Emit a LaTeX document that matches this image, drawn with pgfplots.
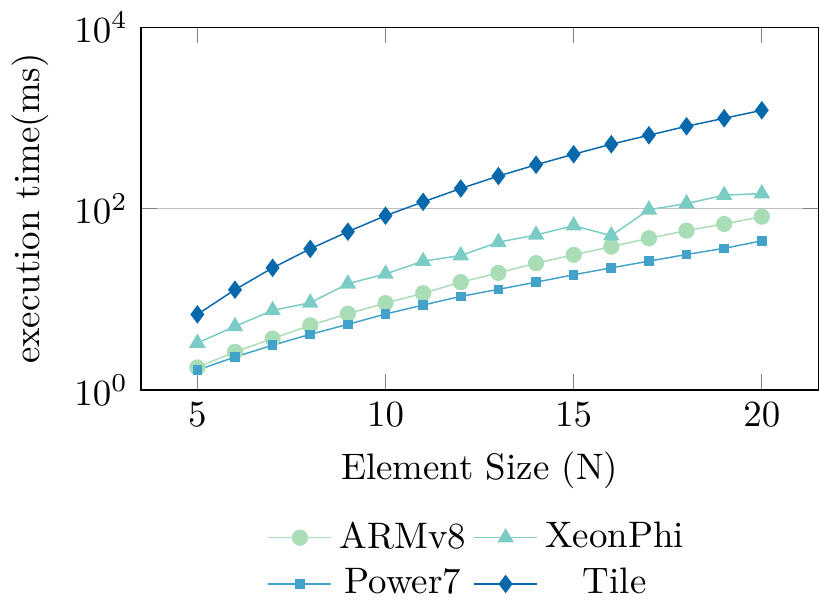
\documentclass[border=0pt]{standalone}
\usepackage{pgfplots}
\pgfplotsset{compat=1.18}
\definecolor{c1}{HTML}{A8DDB5}
\definecolor{c2}{HTML}{7BCCC4}
\definecolor{c3}{HTML}{43A2CA}
\definecolor{c4}{HTML}{0868AC}
\begin{document}
\begin{tikzpicture}
\begin{axis}[
  scale only axis,
  width=183.7pt, height=98.4pt,
  ymode=log,
  xmin=3.5, xmax=21.5,
  ymin=1, ymax=10000,
  xtick={5,10,15,20},
  ytick={1,100,10000},
  minor ytick={},
  ymajorgrids,
  grid style={gray!50},
  xlabel={Element Size (N)},
  ylabel={execution time(ms)},
  legend columns=2,
  legend style={at={(0.5,-0.32)}, anchor=north, draw=none, cells={anchor=center}},
]
\addplot[c1, mark=*, mark size=2pt, mark options={fill=c1}] coordinates {
(5,1.78)(6,2.64)(7,3.70)(8,5.18)(9,6.96)(10,9.10)(11,11.7)(12,15.5)(13,19.6)(14,25.1)(15,31.0)(16,38.2)(17,47.2)(18,57.3)(19,67.9)(20,81.7)};
\addlegendentry{ARMv8}
\addplot[c2, mark=triangle*, mark size=2.2pt, mark options={fill=c2}] coordinates {
(5,3.31)(6,5.05)(7,7.57)(8,9.19)(9,14.9)(10,19.1)(11,26.4)(12,30.5)(13,42.7)(14,51.4)(15,65.0)(16,50.5)(17,97.5)(18,114)(19,141)(20,147)};
\addlegendentry{XeonPhi}
\addplot[c3, mark=square*, mark size=1.1pt, mark options={fill=c3}] coordinates {
(5,1.66)(6,2.32)(7,3.13)(8,4.12)(9,5.31)(10,6.90)(11,8.67)(12,10.8)(13,12.9)(14,15.5)(15,18.7)(16,22.3)(17,26.4)(18,31.3)(19,36.6)(20,44.2)};
\addlegendentry{Power7}
\addplot[c4, mark=diamond*, mark size=2.2pt, mark options={fill=c4}] coordinates {
(5,6.84)(6,12.8)(7,22.3)(8,36.1)(9,55.8)(10,83.7)(11,119)(12,167)(13,229)(14,305)(15,399)(16,514)(17,646)(18,811)(19,993)(20,1216)};
\addlegendentry{Tile}
\end{axis}
\end{tikzpicture}
\end{document}
